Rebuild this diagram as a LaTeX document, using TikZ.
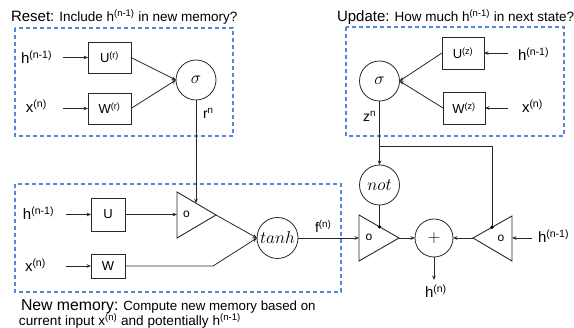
\documentclass[tikz,border=0pt]{standalone}
\usepackage{fontspec}
\setmainfont{Liberation Sans}
\usetikzlibrary{arrows.meta}
\definecolor{dashblue}{RGB}{86,135,214}
\definecolor{ink}{RGB}{40,40,40}
\begin{document}
\begin{tikzpicture}[x=1pt,y=-1pt,
  every node/.style={inner sep=0pt, outer sep=0pt},
  ln/.style={line width=0.8pt, draw=ink},
  arr/.style={ln, -{Stealth[length=4.5pt,width=3.6pt]}},
  grp/.style={draw=dashblue, line width=1.1pt, dash pattern=on 4pt off 3pt},
  opbox/.style={draw=ink, line width=0.9pt, font=\fontsize{13}{15}\selectfont},
  circ/.style={circle, draw=ink, line width=0.8pt, font=\fontsize{16}{18}\selectfont},
  lbl/.style={anchor=base west, font=\fontsize{15}{17}\selectfont},
  slbl/.style={anchor=base west, font=\fontsize{14}{16}\selectfont},
  ttl/.style={anchor=base west, font=\fontsize{13.5}{16}\selectfont},
  tri/.style={draw=ink, line width=0.9pt, line join=miter},
  olbl/.style={font=\fontsize{12}{14}\selectfont},
  dotc/.style={circle, fill=black, minimum size=3.6pt}
]
\useasboundingbox (0,0) rectangle (574,328);

% dashed groups
\draw[grp] (15,28) rectangle (233,136);
\draw[grp] (346,27) rectangle (564,136);
\draw[grp] (15,184) rectangle (341,292);

% titles
\node[ttl] (tReset) at (11,22) {{\fontsize{15}{17}\selectfont Reset:} Include h\textsuperscript{(n-1)} in new memory?};
\node[ttl] (tUpd) at (337,22) {{\fontsize{15}{17}\selectfont Update:} How much h\textsuperscript{(n-1)} in next state?};
\node[ttl, font=\fontsize{13.3}{15}\selectfont] (tNew1) at (21,310.5) {{\fontsize{15.8}{17}\selectfont New memory:} Compute new memory based on};
\node[ttl, font=\fontsize{13.6}{15}\selectfont] (tNew2) at (19,325.5) {current input x\textsuperscript{(n)} and potentially h\textsuperscript{(n-1)}};

% ---------- reset gate ----------
\node[lbl] (h1) at (21,64) {h\textsuperscript{(n-1)}};
\node[lbl] (x1) at (26,113) {x\textsuperscript{(n)}};
\coordinate (h1s) at (63,57.5);
\coordinate (x1s) at (63,108.5);
\node[opbox, minimum width=43pt, minimum height=31pt] (Ur) at (109.5,57.5) {U\textsuperscript{(r)}};
\node[opbox, minimum width=43pt, minimum height=31pt] (Wr) at (109.5,108.5) {W\textsuperscript{(r)}};
\node[circ, minimum size=40pt] (s1) at (196,80) {$\sigma$};
\node[slbl] (rn) at (203,119) {r\textsuperscript{n}};
\draw[arr] (h1s) -- (Ur.west);
\draw[arr] (x1s) -- (Wr.west);
\draw[arr] (Ur.east) -- (s1.west);
\draw[arr] (Wr.east) -- (s1.west);

% ---------- update gate ----------
\node[lbl] (h2) at (518,61) {h\textsuperscript{(n-1)}};
\node[lbl] (x2) at (522,113) {x\textsuperscript{(n)}};
\coordinate (h2s) at (508,53);
\coordinate (x2s) at (508,108);
\node[opbox, minimum width=42pt, minimum height=32pt] (Uz) at (463,53) {U\textsuperscript{(z)}};
\node[opbox, minimum width=42pt, minimum height=32pt] (Wz) at (464,108) {W\textsuperscript{(z)}};
\node[circ, minimum size=40pt] (s2) at (379.5,81) {$\sigma$};
\node[slbl] (zn) at (363,122) {z\textsuperscript{n}};
\draw[arr] (h2s) -- (Uz.east);
\draw[arr] (x2s) -- (Wz.east);
\draw[arr] (Uz.west) -- (s2.east);
\draw[arr] (Wz.west) -- (s2.east);

% ---------- new memory ----------
\node[lbl] (h3) at (23,220) {h\textsuperscript{(n-1)}};
\node[lbl] (x3) at (25,272) {x\textsuperscript{(n)}};
\coordinate (h3s) at (66,214.5);
\coordinate (x3s) at (66,266);
\node[opbox, minimum width=34pt, minimum height=33pt] (U) at (108,214.5) {U};
\node[opbox, minimum width=34pt, minimum height=24pt] (W) at (108,266) {W};
% multiply triangle 1
\coordinate (t1a) at (177,192);
\coordinate (t1b) at (177,238);
\coordinate (t1tip) at (216,215);
\coordinate (t1w) at (177,214.5);
\coordinate (t1top) at (196,203.2);
\draw[tri] (t1a) -- (t1b) -- (t1tip) -- cycle;
\node[olbl] (o1) at (186.5,214) {o};
\node[circ, minimum size=41pt] (tanh) at (277.5,238) {$tanh$};
\coordinate (wbend) at (213,266);
\draw[arr] (h3s) -- (U.west);
\draw[arr] (x3s) -- (W.west);
\draw[arr] (U.east) -- (t1w);
\draw[arr] (s1.south) -- (t1top);
\draw[arr] (t1tip) -- (tanh.west);
\draw[arr] (W.east) -- (wbend) -- (tanh.west);

% ---------- output ----------
\coordinate (t2a) at (359,215);
\coordinate (t2b) at (359,261);
\coordinate (t2tip) at (399,238);
\coordinate (t2w) at (359,238);
\coordinate (t2top) at (379.5,226.8);
\draw[tri] (t2a) -- (t2b) -- (t2tip) -- cycle;
\node[olbl] (o2) at (369,237) {o};

\coordinate (t3a) at (512,216);
\coordinate (t3b) at (512,261);
\coordinate (t3tip) at (473,238);
\coordinate (t3e) at (512,238);
\coordinate (t3top) at (492,227.3);
\draw[tri] (t3a) -- (t3b) -- (t3tip) -- cycle;
\node[olbl] (o3) at (501,238) {o};

\node[circ, minimum size=40pt] (not) at (379.5,185) {$not$};
\node[circ, minimum size=38pt] (plus) at (434,238) {$+$};
\node[slbl] (fn) at (315,233) {f\textsuperscript{(n)}};
\node[lbl] (hn) at (425,298) {h\textsuperscript{(n)}};
\node[lbl] (h4) at (538,243) {h\textsuperscript{(n-1)}};
\coordinate (h4s) at (532,238);
\coordinate (hnend) at (434,280);
\coordinate (br1) at (379.5,146);
\coordinate (br2) at (492,146);

\draw[arr] (s2.south) -- (not.north);
\draw[ln] (br1) -- (br2) -- (t3top);
\draw[ln] (not.south) -- (t2top);
\node[dotc] (d2) at (t2top) {};
\node[dotc] (d3) at (t3top) {};
\draw[arr] (tanh.east) -- (t2w);
\draw[arr] (t2tip) -- (plus.west);
\draw[arr] (t3tip) -- (plus.east);
\draw[arr] (h4s) -- (t3e);
\draw[arr] (plus.south) -- (hnend);
\end{tikzpicture}
\end{document}
